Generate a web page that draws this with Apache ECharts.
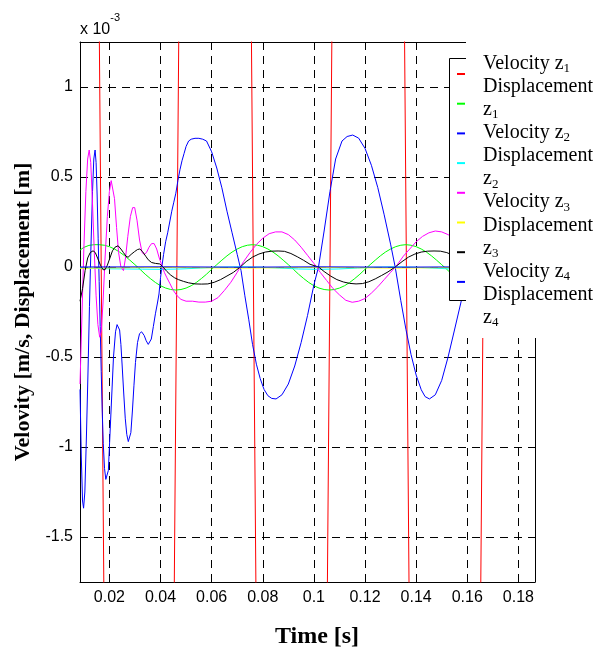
<!DOCTYPE html>
<html><head><meta charset="utf-8">
<script src="https://cdn.jsdelivr.net/npm/echarts@6/dist/echarts.min.js"></script>
<style>html,body{margin:0;padding:0;background:#fff}#c{width:596px;height:651px}</style>
</head><body><div id="c"></div>
<script>
// ---- tick labels ----
const XTICKS = [0.02,0.04,0.06,0.08,0.1,0.12,0.14,0.16,0.18];
const XTICK_LABELS = ['0.02','0.04','0.06','0.08','0.1','0.12','0.14','0.16','0.18'];
const YTICKS = [-1.5,-1,-0.5,0,0.5,1];
const YTICK_LABELS = ['-1.5','-1','-0.5','0','0.5','1'];
const SERIES_NAMES = ['Velocity z1','Displacement z1','Velocity z2','Displacement z2','Velocity z3','Displacement z3','Velocity z4','Displacement z4'];
const SERIES_COLORS = ['#ff0000','#00ff00','#0000ff','#00ffff','#ff00ff','#ffff00','#000000','#0000ff'];

// ---- series values (units of 1e-3), [time s, value] ----
const velZ1 = [[0.0085,10.2],[0.0156,2.08],[0.0180,-2.08],[0.0316,-13.3],[0.0452,-2.08],[0.0476,2.08],[0.0613,13.3],[0.0751,2.08],[0.0775,-2.08],[0.0913,-13.3],[0.1051,-2.08],[0.1075,2.08],[0.1212,13.3],[0.1350,2.08],[0.1374,-2.08],[0.1512,-13.3],[0.1651,-2.08],[0.1675,2.08],[0.1812,13.3]];

const dispZ1 = [[0.0085,0.094],[0.0100,0.109],[0.0120,0.120],[0.0140,0.124],[0.0160,0.124],[0.0180,0.121],[0.0200,0.113],[0.0220,0.100],[0.0240,0.083],[0.0260,0.062],[0.0280,0.038],[0.0300,0.013],[0.0320,-0.013],[0.0340,-0.040],[0.0360,-0.064],[0.0380,-0.086],[0.0400,-0.104],[0.0420,-0.117],[0.0440,-0.125],[0.0460,-0.128],[0.0480,-0.125],[0.0500,-0.117],[0.0520,-0.104],[0.0540,-0.086],[0.0560,-0.064],[0.0580,-0.040],[0.0600,-0.013],[0.0620,0.013],[0.0640,0.038],[0.0660,0.062],[0.0680,0.083],[0.0700,0.100],[0.0720,0.113],[0.0740,0.121],[0.0760,0.124],[0.0780,0.121],[0.0800,0.113],[0.0820,0.100],[0.0840,0.083],[0.0860,0.062],[0.0880,0.038],[0.0900,0.013],[0.0920,-0.013],[0.0940,-0.040],[0.0960,-0.064],[0.0980,-0.086],[0.1000,-0.104],[0.1020,-0.117],[0.1040,-0.125],[0.1060,-0.128],[0.1080,-0.125],[0.1100,-0.117],[0.1120,-0.104],[0.1140,-0.086],[0.1160,-0.064],[0.1180,-0.040],[0.1200,-0.013],[0.1220,0.013],[0.1240,0.038],[0.1260,0.062],[0.1280,0.083],[0.1300,0.100],[0.1320,0.113],[0.1340,0.121],[0.1360,0.124],[0.1380,0.121],[0.1400,0.113],[0.1420,0.100],[0.1440,0.083],[0.1460,0.062],[0.1480,0.038],[0.1500,0.013],[0.1520,-0.013],[0.1540,-0.040],[0.1560,-0.064],[0.1580,-0.086],[0.1600,-0.104],[0.1620,-0.117],[0.1640,-0.125],[0.1660,-0.128]];

const velZ2 = [[0.0085,-0.68],[0.0090,-1.05],[0.0095,-1.30],[0.0099,-1.34],[0.0104,-1.25],[0.0110,-0.95],[0.0116,-0.60],[0.0122,-0.22],[0.0128,0.12],[0.0134,0.42],[0.0139,0.60],[0.0144,0.65],[0.0148,0.58],[0.0152,0.40],[0.0156,0.16],[0.0160,-0.08],[0.0164,-0.33],[0.0168,-0.58],[0.0172,-0.80],[0.0176,-0.98],[0.0181,-1.12],[0.0186,-1.18],[0.0191,-1.19],[0.0196,-1.13],[0.0200,-1.00],[0.0208,-0.75],[0.0216,-0.50],[0.0224,-0.36],[0.0230,-0.32],[0.0236,-0.317],[0.0240,-0.35],[0.0245,-0.43],[0.0250,-0.55],[0.0256,-0.70],[0.0262,-0.84],[0.0268,-0.93],[0.0274,-0.97],[0.0278,-0.974],[0.0284,-0.92],[0.0290,-0.80],[0.0296,-0.66],[0.0302,-0.53],[0.0310,-0.42],[0.0318,-0.37],[0.0326,-0.36],[0.0330,-0.36],[0.0336,-0.38],[0.0344,-0.41],[0.0352,-0.43],[0.0358,-0.428],[0.0364,-0.40],[0.0372,-0.33],[0.0380,-0.26],[0.0388,-0.20],[0.0394,-0.15],[0.0400,-0.06],[0.0405,0.00],[0.0412,0.07],[0.0420,0.14],[0.0428,0.19],[0.0436,0.25],[0.0444,0.31],[0.0452,0.36],[0.0460,0.41],[0.0468,0.48],[0.0476,0.54],[0.0484,0.59],[0.0492,0.63],[0.0500,0.67],[0.0510,0.70],[0.0520,0.71],[0.0535,0.715],[0.0550,0.715],[0.0565,0.71],[0.0580,0.70],[0.0600,0.64],[0.0620,0.55],[0.0640,0.44],[0.0660,0.31],[0.0680,0.19],[0.0700,0.07],[0.0715,-0.02],[0.0730,-0.16],[0.0745,-0.29],[0.0760,-0.43],[0.0775,-0.54],[0.0790,-0.62],[0.0805,-0.68],[0.0820,-0.715],[0.0835,-0.73],[0.0852,-0.733],[0.0875,-0.71],[0.0900,-0.65],[0.0925,-0.55],[0.0950,-0.42],[0.0975,-0.27],[0.1000,-0.10],[0.1018,0.00],[0.1040,0.20],[0.1063,0.42],[0.1085,0.60],[0.1110,0.70],[0.1130,0.725],[0.1152,0.733],[0.1175,0.716],[0.1200,0.659],[0.1225,0.565],[0.1250,0.441],[0.1275,0.29],[0.1300,0.127],[0.1318,0.00],[0.1340,-0.187],[0.1360,-0.346],[0.1380,-0.486],[0.1400,-0.60],[0.1420,-0.682],[0.1435,-0.72],[0.1452,-0.733],[0.1475,-0.71],[0.1500,-0.63],[0.1525,-0.50],[0.1550,-0.35],[0.1578,-0.18],[0.1600,-0.03],[0.1625,0.15],[0.1650,0.32]];

const dispZ2 = [[0.0085,-0.004],[0.0200,-0.010],[0.0330,-0.012],[0.0405,-0.013],[0.0480,-0.011],[0.0555,-0.006],[0.0635,-0.001],[0.0712,0.001],[0.0790,-0.001],[0.0865,-0.006],[0.0940,-0.011],[0.1018,-0.013],[0.1095,-0.011],[0.1170,-0.006],[0.1245,-0.001],[0.1318,0.001],[0.1390,-0.001],[0.1465,-0.006],[0.1540,-0.011],[0.1615,-0.013],[0.1665,-0.012]];

const velZ3 = [[0.0085,-0.65],[0.0092,-0.30],[0.0100,0.10],[0.0108,0.42],[0.0115,0.60],[0.0121,0.65],[0.0127,0.58],[0.0134,0.35],[0.0141,0.08],[0.0148,-0.16],[0.0155,-0.32],[0.0162,-0.39],[0.0168,-0.36],[0.0175,-0.20],[0.0183,0.05],[0.0192,0.28],[0.0200,0.42],[0.0207,0.48],[0.0213,0.47],[0.0220,0.38],[0.0228,0.22],[0.0236,0.08],[0.0245,0.00],[0.0255,-0.02],[0.0263,0.05],[0.0272,0.17],[0.0282,0.28],[0.0291,0.33],[0.0299,0.33],[0.0308,0.26],[0.0318,0.15],[0.0328,0.08],[0.0336,0.07],[0.0345,0.08],[0.0355,0.11],[0.0365,0.13],[0.0375,0.13],[0.0385,0.10],[0.0395,0.05],[0.0405,0.01],[0.0415,-0.03],[0.0425,-0.06],[0.0436,-0.09],[0.0450,-0.13],[0.0465,-0.16],[0.0480,-0.18],[0.0500,-0.19],[0.0525,-0.19],[0.0550,-0.195],[0.0575,-0.195],[0.0600,-0.19],[0.0625,-0.17],[0.0650,-0.13],[0.0675,-0.085],[0.0700,-0.03],[0.0712,0.00],[0.0725,0.03],[0.0750,0.08],[0.0775,0.125],[0.0800,0.16],[0.0825,0.185],[0.0850,0.195],[0.0875,0.195],[0.0900,0.18],[0.0925,0.15],[0.0950,0.11],[0.0975,0.065],[0.1000,0.02],[0.1025,-0.03],[0.1050,-0.075],[0.1075,-0.12],[0.1100,-0.155],[0.1125,-0.185],[0.1150,-0.196],[0.1175,-0.19],[0.1200,-0.175],[0.1225,-0.145],[0.1250,-0.11],[0.1275,-0.07],[0.1300,-0.03],[0.1325,0.01],[0.1350,0.06],[0.1375,0.10],[0.1400,0.14],[0.1425,0.17],[0.1450,0.19],[0.1475,0.20],[0.1500,0.195],[0.1525,0.18],[0.1550,0.155],[0.1575,0.12],[0.1600,0.08],[0.1625,0.035],[0.1650,-0.01]];

const dispZ3 = [[0.0085,-0.007],[0.0200,-0.005],[0.0412,-0.002],[0.0562,-0.004],[0.0712,-0.006],[0.0865,-0.004],[0.1018,-0.002],[0.1170,-0.004],[0.1318,-0.006],[0.1465,-0.004],[0.1618,-0.002],[0.1665,-0.002]];

const velZ4 = [[0.0085,-0.19],[0.0095,-0.12],[0.0105,-0.02],[0.0115,0.05],[0.0125,0.08],[0.0136,0.09],[0.0145,0.08],[0.0155,0.045],[0.0165,0.01],[0.0175,-0.015],[0.0183,-0.015],[0.0192,0.01],[0.0202,0.05],[0.0212,0.09],[0.0222,0.11],[0.0234,0.118],[0.0245,0.10],[0.0255,0.08],[0.0265,0.06],[0.0273,0.054],[0.0285,0.07],[0.0298,0.085],[0.0310,0.097],[0.0319,0.10],[0.0330,0.085],[0.0342,0.06],[0.0352,0.04],[0.0365,0.025],[0.0380,0.02],[0.0397,0.017],[0.0410,0.00],[0.0425,-0.025],[0.0440,-0.045],[0.0455,-0.06],[0.0470,-0.07],[0.0490,-0.08],[0.0510,-0.088],[0.0535,-0.094],[0.0560,-0.095],[0.0585,-0.094],[0.0610,-0.085],[0.0635,-0.07],[0.0660,-0.05],[0.0685,-0.03],[0.0712,0.00],[0.0735,0.03],[0.0760,0.055],[0.0785,0.072],[0.0810,0.083],[0.0835,0.088],[0.0860,0.089],[0.0885,0.087],[0.0910,0.075],[0.0935,0.057],[0.0960,0.037],[0.0985,0.015],[0.1018,0.00],[0.1040,-0.025],[0.1065,-0.05],[0.1090,-0.07],[0.1115,-0.083],[0.1140,-0.091],[0.1165,-0.094],[0.1190,-0.092],[0.1215,-0.082],[0.1240,-0.066],[0.1265,-0.047],[0.1290,-0.027],[0.1318,0.00],[0.1345,0.03],[0.1370,0.055],[0.1395,0.072],[0.1420,0.083],[0.1445,0.088],[0.1470,0.089],[0.1495,0.088],[0.1520,0.08],[0.1545,0.065],[0.1570,0.045],[0.1600,0.02],[0.1650,-0.03]];

const dispZ4 = [[0.0085,0.000],[0.0412,0.001],[0.0712,-0.001],[0.1018,0.001],[0.1318,-0.001],[0.1618,0.001],[0.1665,0.001]];

const SERIES_DATA = [velZ1, dispZ1, velZ2, dispZ2, velZ3, dispZ3, velZ4, dispZ4];

// ---- build legend text lines from names ----
const legendLines = [];
SERIES_NAMES.forEach(n => {
  const parts = n.split(' ');
  const word = parts[0], z = parts[1];
  if (word === 'Displacement') {
    legendLines.push('{a|Displacement}');
    legendLines.push('{a|' + z[0] + '}{b|' + z.slice(1) + '}');
  } else {
    legendLines.push('{a|' + word + ' ' + z[0] + '}{b|' + z.slice(1) + '}');
  }
});

const SANS = '"Liberation Sans Narrow", "Liberation Sans", Arial, sans-serif';
const SERIF = '"Liberation Serif", "Times New Roman", serif';

const chart = echarts.init(document.getElementById('c'), null, {renderer: 'canvas'});
const XMIN = 0.0085, XMAX = 0.1865, YMIN = -1.75, YMAX = 1.25;

function xAxisDef(pos, showLabels) {
  return {
    type: 'value', position: pos, min: XMIN, max: XMAX, gridIndex: 0,
    axisLine: {show: true, onZero: false, lineStyle: {color: '#000', width: 1}},
    axisTick: {show: true, inside: true, length: 5, customValues: XTICKS, lineStyle: {color: '#000'}},
    axisLabel: {show: showLabels, customValues: XTICKS, margin: 8, color: '#000', fontFamily: SANS, fontSize: 16,
      formatter: v => { const i = XTICKS.findIndex(t => Math.abs(t - v) < 1e-9); return i >= 0 ? XTICK_LABELS[i] : ''; }},
    splitLine: {show: showLabels, lineStyle: {color: '#000', type: [8, 6], width: 1}}
  };
}
function yAxisDef(pos, showLabels) {
  return {
    type: 'value', position: pos, min: YMIN, max: YMAX, gridIndex: 0,
    axisLine: {show: true, onZero: false, lineStyle: {color: '#000', width: 1}},
    axisTick: {show: true, inside: true, length: 5, customValues: YTICKS, lineStyle: {color: '#000'}},
    axisLabel: {show: showLabels, customValues: YTICKS, margin: 7, color: '#000', fontFamily: SANS, fontSize: 16,
      formatter: v => { const i = YTICKS.findIndex(t => Math.abs(t - v) < 1e-9); return i >= 0 ? YTICK_LABELS[i] : ''; }},
    splitLine: {show: showLabels, lineStyle: {color: '#000', type: [8, 6], width: 1}}
  };
}

const option = {
  animation: false,
  backgroundColor: '#fff',
  grid: {left: 80, top: 42, width: 455, height: 540, containLabel: false},
  xAxis: [xAxisDef('bottom', true), xAxisDef('top', false)],
  yAxis: [yAxisDef('left', true), yAxisDef('right', false)],
  legend: {
    show: true, orient: 'vertical', left: 457, top: 73, z: 60, padding: 0,
    itemWidth: 8, itemHeight: 2, itemGap: 27.7, icon: 'rect', selectedMode: false,
    formatter: () => '', textStyle: {fontSize: 1, lineHeight: 1},
    data: SERIES_NAMES
  },
  series: SERIES_NAMES.map((n, i) => ({
    name: n, type: 'line', xAxisIndex: 0, yAxisIndex: 0,
    data: SERIES_DATA[i], showSymbol: false, symbol: 'none', clip: true,
    color: SERIES_COLORS[i],
    lineStyle: {color: SERIES_COLORS[i], width: 1},
    itemStyle: {color: SERIES_COLORS[i]},
    emphasis: {disabled: true}
  })),
  graphic: [
    {type: 'rect', z: 50, silent: true, shape: {x: 466, y: 0, width: 140, height: 338}, style: {fill: '#fff'}},
    {type: 'rect', z: 50, silent: true, shape: {x: 449, y: 58, width: 17, height: 243}, style: {fill: '#fff'}},
    {type: 'polyline', z: 51, silent: true, shape: {points: [[466, 58.5], [449.5, 58.5], [449.5, 300.5], [466, 300.5]]}, style: {stroke: '#000', lineWidth: 1, fill: null}},
    {type: 'text', z: 60, silent: true, x: 483, y: 52, style: {
      text: legendLines.join('\n'), fill: '#000', align: 'left', verticalAlign: 'top',
      rich: {
        a: {fontFamily: SERIF, fontSize: 20, lineHeight: 23.1, fill: '#000'},
        b: {fontFamily: SERIF, fontSize: 13, lineHeight: 12, verticalAlign: 'bottom', fill: '#000'}
      }}},
    {type: 'text', z: 60, silent: true, x: 80, y: 12, style: {
      text: '{a|x 10}{b|-3}', fill: '#000', align: 'left', verticalAlign: 'top',
      rich: {
        a: {fontFamily: SANS, fontSize: 16, lineHeight: 26, verticalAlign: 'bottom', fill: '#000'},
        b: {fontFamily: SANS, fontSize: 11, lineHeight: 12, verticalAlign: 'top', fill: '#000'}
      }}},
    {type: 'text', z: 60, silent: true, x: 23, y: 312, rotation: Math.PI / 2, style: {text: 'Velovity [m/s, Displacement [m]', fill: '#000', font: 'bold 22px ' + SERIF, align: 'center', verticalAlign: 'middle'}},
    {type: 'text', z: 60, silent: true, x: 317, y: 637, style: {text: 'Time [s]', fill: '#000', font: 'bold 24px ' + SERIF, align: 'center', verticalAlign: 'middle'}}
  ]
};
chart.setOption(option);
</script></body></html>
